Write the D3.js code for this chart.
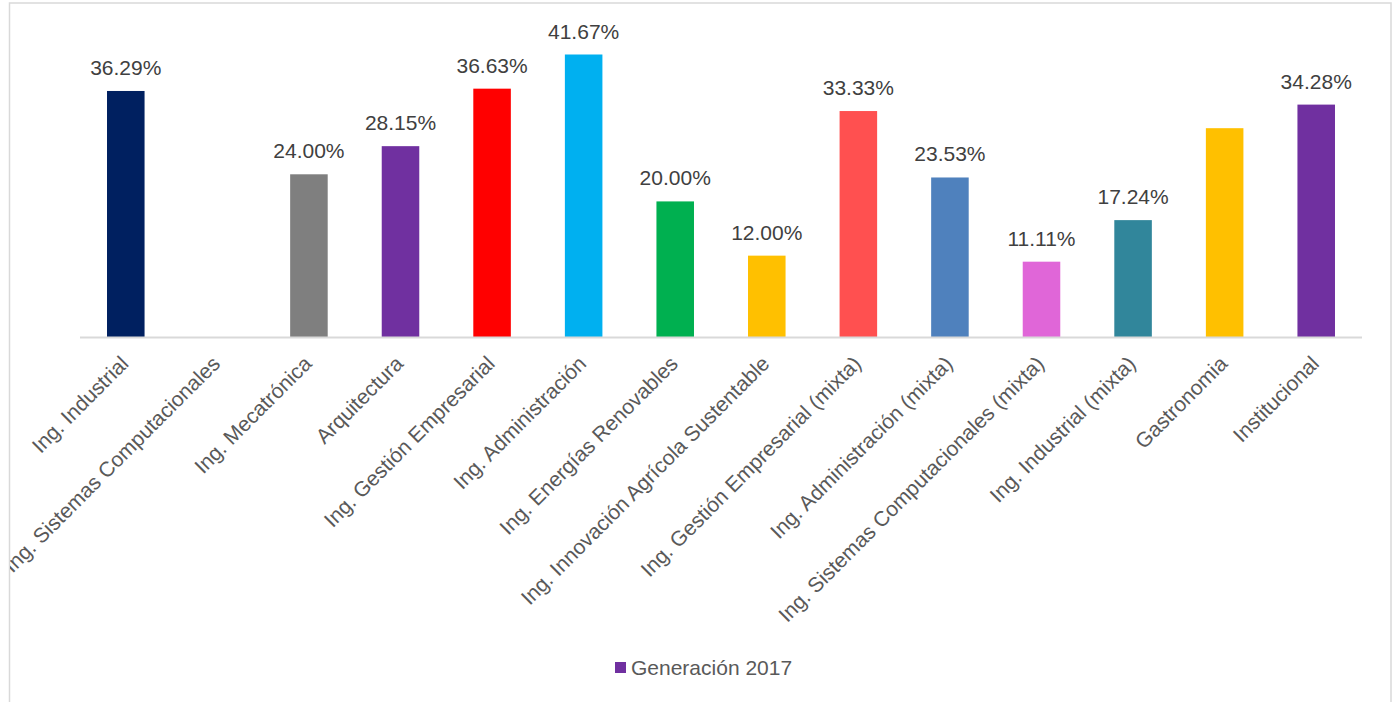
<!DOCTYPE html>
<html>
<head>
<meta charset="utf-8">
<script src="https://cdn.jsdelivr.net/npm/d3@7"></script>
<style>
  body { margin: 0; background: #fff; }
  svg { display: block; font-family: "Liberation Sans", Arial, sans-serif; }
</style>
</head>
<body>
<svg id="chart"></svg>
<script>
// data
const categories = [
    "Ing. Industrial",
    "Ing. Sistemas Computacionales",
    "Ing. Mecatrónica",
    "Arquitectura",
    "Ing. Gestión Empresarial",
    "Ing. Administración",
    "Ing. Energías Renovables",
    "Ing. Innovación Agrícola Sustentable",
    "Ing. Gestión Empresarial (mixta)",
    "Ing. Administración (mixta)",
    "Ing. Sistemas Computacionales (mixta)",
    "Ing. Industrial (mixta)",
    "Gastronomia",
    "Institucional"
];
const values = [36.29, 0, 24.00, 28.15, 36.63, 41.67, 20.00, 12.00, 33.33, 23.53, 11.11, 17.24, 30.80, 34.28];
// labels as shown (some bars have none)
const valueLabels = ["36.29%", "", "24.00%", "28.15%", "36.63%", "41.67%", "20.00%", "12.00%", "33.33%", "23.53%", "11.11%", "17.24%", "", "34.28%"];
const barColors = ["#002060", "#002060", "#7f7f7f", "#7030a0", "#ff0000", "#00b0f0", "#00b050", "#ffc000",
                   "#ff5050", "#4f81bd", "#e066d8", "#31869b", "#ffc000", "#7030a0"];
const seriesName = "Generación 2017";

const svgWidth = 1395, svgHeight = 702;
const margin = {left: 80, right: 33, top: 54, bottom: 365};
const axisY = 337;

let svg = d3.select("#chart")
    .attr("width", svgWidth)
    .attr("height", svgHeight);

// labels are cut off at the chart frame
svg.append("clipPath")
    .attr("id", "frameClip")
    .append("rect")
    .attr("x", 10)
    .attr("y", 3)
    .attr("width", 1380)
    .attr("height", 720);

// chart frame
svg.append("rect")
    .attr("x", 9.5)
    .attr("y", 3)
    .attr("width", 1381.5)
    .attr("height", 720)
    .attr("fill", "#fff")
    .attr("stroke", "#d9d9d9")
    .attr("stroke-width", 1.5);

let x = d3.scaleBand()
    .domain(categories)
    .range([margin.left, svgWidth - margin.right])
    .paddingInner(0.59)
    .paddingOuter(0.295);

// 41.67% reaches y = 54
let y = d3.scaleLinear()
    .domain([0, 41.67])
    .range([axisY, 54.5]);

// bars
let bars = svg.selectAll(".bar")
    .data(categories)
    .enter()
    .append("g");

bars.append("rect")
    .attr("x", function(d) { return x(d); })
    .attr("y", function(d, i) { return y(values[i]); })
    .attr("width", x.bandwidth())
    .attr("height", function(d, i) { return y(0) - y(values[i]); })
    .attr("fill", function(d, i) { return barColors[i]; });

bars.append("text")
    .text(function(d, i) { return valueLabels[i]; })
    .attr("x", function(d) { return x(d) + x.bandwidth() / 2; })
    .attr("y", function(d, i) { return y(values[i]) - 16; })
    .attr("font-size", "21px")
    .attr("fill", "#404040")
    .attr("text-anchor", "middle");

// x axis
let xAxisWrap = svg.append("g")
    .attr("clip-path", "url(#frameClip)");

let xAxis = xAxisWrap.append("g")
    .attr("transform", "translate(0," + axisY + ")")
    .call(d3.axisBottom(x).tickSize(0).tickPadding(0));

xAxis.select(".domain")
    .attr("d", "M" + margin.left + ",0.5H" + (svgWidth - margin.right))
    .attr("stroke", "#d9d9d9")
    .attr("stroke-width", 2);

xAxis.selectAll(".tick text")
    .attr("font-family", "'Liberation Sans', Arial, sans-serif")
    .attr("font-size", "21px")
    .attr("fill", "#595959")
    .attr("text-anchor", "end")
    .attr("dy", 0)
    .attr("y", 0)
    .attr("transform", "translate(4,28) rotate(-45)");

// legend
let legend = svg.append("g")
    .attr("transform", "translate(615,662)");

legend.append("rect")
    .attr("width", 11)
    .attr("height", 11)
    .attr("fill", "#7030a0");

legend.append("text")
    .attr("x", 16)
    .attr("y", 13)
    .attr("font-size", "21px")
    .attr("fill", "#595959")
    .text(seriesName);
</script>
</body>
</html>
